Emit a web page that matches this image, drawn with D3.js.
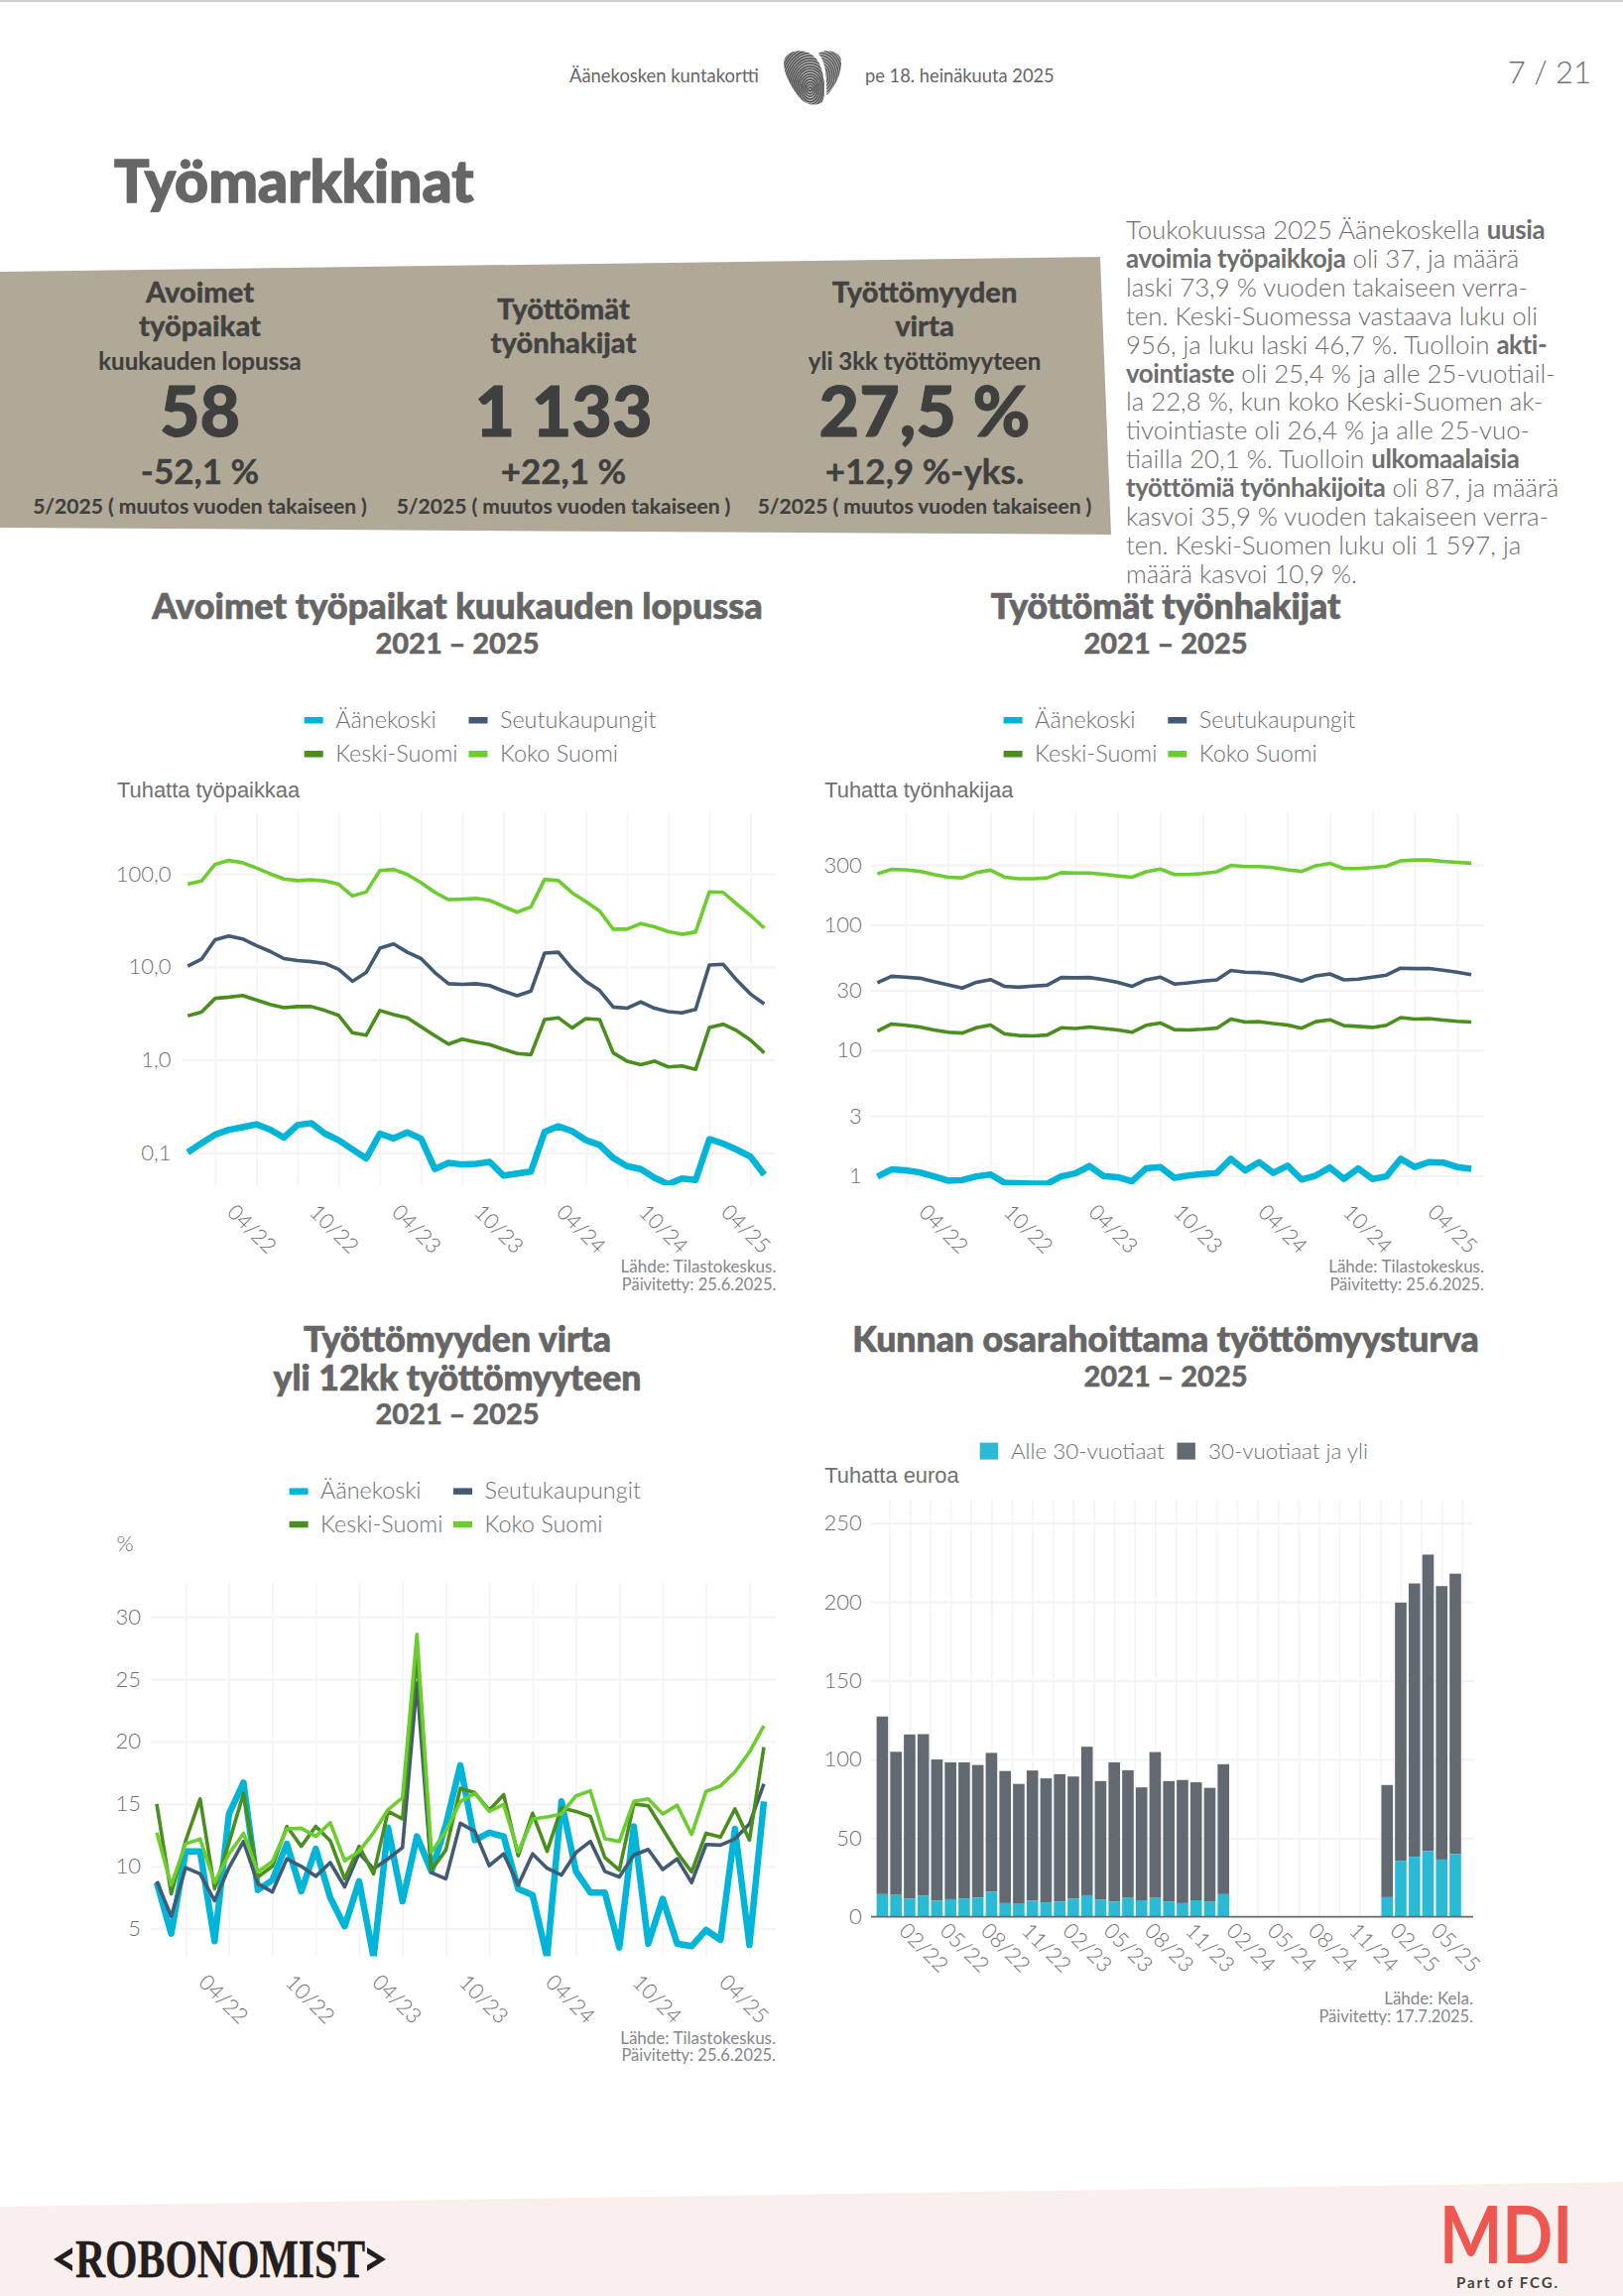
<!DOCTYPE html>
<html lang="fi"><head><meta charset="utf-8">
<script src="https://cdn.jsdelivr.net/npm/d3@7"></script>
<style>
html,body{margin:0;padding:0;background:#fff}
svg{display:block}
text{font-family:Lato,"Open Sans",sans-serif}
</style></head><body>
<svg id="page" width="1636" height="2315"></svg>
<script>
const months=["11/21","12/21","01/22","02/22","03/22","04/22","05/22","06/22","07/22","08/22","09/22","10/22","11/22","12/22","01/23","02/23","03/23","04/23","05/23","06/23","07/23","08/23","09/23","10/23","11/23","12/23","01/24","02/24","03/24","04/24","05/24","06/24","07/24","08/24","09/24","10/24","11/24","12/24","01/25","02/25","03/25","04/25","05/25"];
const seriesNames=["Äänekoski","Seutukaupungit","Keski-Suomi","Koko Suomi"];
const seriesColors=["#00B5D8","#435A75","#4A8F1E","#6CCE2E"];

const jobsAanekoski=[.101,.127,.157,.177,.189,.203,.178,.146,.199,.209,.161,.137,.109,.087,.161,.143,.166,.142,.067,.078,.075,.076,.08,.057,.06,.063,.168,.193,.171,.137,.122,.088,.072,.067,.054,.046,.053,.051,.14,.126,.108,.091,.058];
const jobsSeutu=[10.2,12.1,19.6,21.5,20,17,14.7,12.3,11.7,11.4,10.9,9.4,7,8.7,15.9,17.7,14.4,12.3,8.7,6.6,6.5,6.6,6.3,5.5,4.9,5.5,14.1,14.4,9.6,7,5.6,3.7,3.6,4.2,3.6,3.3,3.2,3.5,10.5,10.7,7.2,5.1,4];
const jobsKeski=[2.98,3.26,4.59,4.73,4.92,4.41,3.95,3.64,3.75,3.75,3.4,3.01,1.96,1.84,3.4,3.07,2.84,2.27,1.82,1.48,1.67,1.55,1.46,1.3,1.17,1.14,2.72,2.84,2.21,2.78,2.72,1.19,.97,.89,.97,.84,.86,.79,2.23,2.42,2.06,1.63,1.19];
const jobsKoko=[77.5,84,127,140,132,116,100.6,88.3,84.8,86.5,84,77.5,58,64,109,112,98.6,80.7,63.4,53,53.5,54.6,52,44.7,38.8,44.3,87.5,84.8,62.8,50.4,40,25.5,25.5,29.3,27,24,22.4,23.8,64.2,63.4,47.4,35.8,26.2];

const seekAanekoski=[.98,1.12,1.1,1.06,.985,.91,.92,.985,1.02,.875,.87,.86,.86,.985,1.04,1.19,.99,.97,.9,1.14,1.17,.96,1,1.03,1.05,1.36,1.1,1.28,1.05,1.2,.93,1,1.16,.94,1.14,.94,.985,1.36,1.17,1.28,1.27,1.17,1.13];
const seekSeutu=[34.5,38.9,38.3,37.5,35.3,33.2,31.3,34.8,36.6,32.3,31.8,32.5,33,38,37.8,38,36.6,34.8,32.3,36.4,38.3,33.7,34.5,35.6,36.4,43.2,41.9,41.6,40.6,38.3,35.6,39.2,40.6,36.4,36.9,38.3,39.7,45.1,44.8,44.8,43.5,41.9,40.1];
const seekKeski=[14.2,16.2,15.8,15.3,14.5,13.9,13.7,15.1,15.9,13.5,13.1,13,13.2,15.1,14.9,15.3,14.9,14.5,13.9,15.8,16.5,14.6,14.5,14.7,15,17.7,16.8,16.9,16.3,15.9,15,16.9,17.5,15.7,15.5,15.2,15.8,18.2,17.7,17.9,17.4,17,16.8];
const seekKoko=[255,277,275,267,252,240,237,261,273,240,233,233,237,261,259,259,253,246,240,265,279,252,252,257,265,298,292,292,286,275,267,296,310,281,281,286,294,324,329,329,321,315,310];

const flowAanekoski=[8.7,4.6,11.2,11.2,4,14.2,16.7,8.1,8.9,11.8,8,11.4,7.5,5.2,8.8,2.7,13.1,7.2,12.4,9.6,13.3,18.1,12.1,12.7,12.4,8.2,7.7,2.7,15.2,9.6,7.9,7.9,3.5,13.2,3.8,7.4,3.8,3.6,4.9,4.1,13,3.7,15.2];
const flowSeutu=[8.8,6,9.9,9.4,7.25,9.9,12,8.6,7.95,10.6,10,9.2,10.3,8.35,11.05,9.8,10.6,11.5,24.7,9.5,9,13.45,12.8,10.05,11,8.5,11,9.85,9.3,11.1,12,9.6,9.15,10.9,11.35,9.75,10.6,8.7,11.75,11.7,12.2,13.4,16.6];
const flowKeski=[15,7.8,12.05,15.4,8.2,11.9,15.85,9.15,10,13.2,11.6,13.2,12.05,9,11.6,9.4,14.4,13.8,27.1,9.7,11.3,16.25,15.9,14.5,15.75,10.85,14.25,11.2,14.7,14.4,14,10.7,9.7,15,14.85,13,11.1,9.55,12.65,12.35,14.6,12.1,19.55];
const flowKoko=[12.7,8.5,11.8,12.2,8.7,11,12.65,9.55,10.4,13,13.05,12.4,13.5,10.45,11.2,12.7,14.55,15.5,28.6,11.15,12.8,15.2,15.85,14.4,14.95,11.15,13.8,13.95,14.2,15.65,16.05,12.2,12,15.2,15.4,14.2,14.9,12.55,16,16.45,17.55,19.15,21.25];

const benefitYoung=[14.4,13.9,11.5,13.4,10.2,11.2,11.7,12.2,15.9,8.7,8.2,10.2,9.2,9.7,11.5,13.7,11,9.7,12,10.5,12,9.7,8.7,10.5,9.5,14.4,null,null,null,null,null,null,null,null,null,null,null,12.5,35.6,38.1,41.8,36.4,39.8];
const benefitOlder=[112.8,90.9,104.3,102.6,89.7,86.9,86.4,84.2,88.2,83.9,76.2,82.7,78.7,80.9,77.6,94.3,75.2,88.4,81.1,71.7,92.6,76.5,78.2,74.9,72.4,82.5,null,null,null,null,null,null,null,null,null,null,null,71.2,163.9,173.6,188.2,173.6,178.1];
const benefitNames=["Alle 30-vuotiaat","30-vuotiaat ja yli"];
const benefitColors=["#2ABAD6","#626971"];

const kpiTitles=[["Avoimet","työpaikat"],["Työttömät","työnhakijat"],["Työttömyyden","virta"]];
const kpiSubs=["kuukauden lopussa","","yli 3kk työttömyyteen"];
const kpiValues=["58","1 133","27,5 %"];
const kpiChanges=["-52,1 %","+22,1 %","+12,9 %-yks."];
const kpiNote="5/2025 ( muutos vuoden takaiseen )";
const bodyLines=[
 [["Toukokuussa 2025 Äänekoskella ",0],["uusia",1]],
 [["avoimia työpaikkoja",1],[" oli 37, ja määrä",0]],
 [["laski 73,9 % vuoden takaiseen verra-",0]],
 [["ten. Keski-Suomessa vastaava luku oli",0]],
 [["956, ja luku laski 46,7 %. Tuolloin ",0],["akti-",1]],
 [["vointiaste",1],[" oli 25,4 % ja alle 25-vuotiail-",0]],
 [["la 22,8 %, kun koko Keski-Suomen ak-",0]],
 [["tivointiaste oli 26,4 % ja alle 25-vuo-",0]],
 [["tiailla 20,1 %. Tuolloin ",0],["ulkomaalaisia",1]],
 [["työttömiä työnhakijoita",1],[" oli 87, ja määrä",0]],
 [["kasvoi 35,9 % vuoden takaiseen verra-",0]],
 [["ten. Keski-Suomen luku oli 1 597, ja",0]],
 [["määrä kasvoi 10,9 %.",0]]
];

const svg=d3.select("#page");
const GRID="#F4F4F5",TXT="#737577",HEAD="#666666",DARK="#3F3F3F";
const txt=(g,x,y,s,o={})=>{const t=g.append("text").attr("x",x).attr("y",y).text(s)
  .attr("text-anchor",o.a||"start").attr("font-size",o.s||18).attr("font-weight",o.w||400)
  .attr("fill",o.f||TXT).style("font-family",o.ff||null);
  if(o.sw) t.attr("stroke",o.f||TXT).attr("stroke-width",o.sw).attr("stroke-linejoin","round");
  return t;};

/* page furniture */
svg.append("rect").attr("width",1636).attr("height",2).attr("fill","#cfcfcf");
txt(svg,574,83,"Äänekosken kuntakortti",{s:18.4,f:"#666"});
txt(svg,872,83,"pe 18. heinäkuuta 2025",{s:18.3,f:"#666"});
txt(svg,1604,84,"7 / 21",{s:31,a:"end",f:"#707070",w:300});
const heart=svg.append("g").attr("transform","translate(770,40) scale(.3333)");
const defs=svg.append("defs");
defs.append("clipPath").attr("id","lobeL").append("path").attr("d","M62,60C75,28 130,22 160,60C185,95 190,170 175,190C150,205 120,195 100,165C75,130 55,90 62,60Z");
defs.append("clipPath").attr("id","lobeR").append("path").attr("d","M165,42C190,25 232,35 234,65C236,105 210,150 190,168C190,120 190,70 165,42Z");
const hl=heart.append("g").attr("clip-path","url(#lobeL)");
hl.append("rect").attr("width",300).attr("height",225).attr("fill","#bdbdbd");
d3.range(6,150,8).forEach(r=>hl.append("ellipse").attr("cx",140).attr("cy",150).attr("rx",r*.72).attr("ry",r).attr("fill","none").attr("stroke","#505050").attr("stroke-width",4.5));
const hr=heart.append("g").attr("clip-path","url(#lobeR)");
hr.append("rect").attr("width",300).attr("height",225).attr("fill","#bdbdbd");
d3.range(6,150,8).forEach(r=>hr.append("ellipse").attr("cx",170).attr("cy",110).attr("rx",r*.8).attr("ry",r).attr("fill","none").attr("stroke","#5a5a5a").attr("stroke-width",4.5));

txt(svg,115,204,"Työmarkkinat",{s:59,w:900,f:HEAD,sw:1.4});

svg.append("polygon").attr("points","0,274 1109,259 1120,539 0,532").attr("fill","#B1A997");
const kpiX=[201.5,568,932];
kpiX.forEach((cx,i)=>{
  const two=kpiSubs[i]==="";
  kpiTitles[i].forEach((t,j)=>txt(svg,cx,(two?322:305)+j*(two?33.5:34),t,{a:"middle",s:29,w:900,f:"#424242",sw:.3}));
  if(kpiSubs[i]) txt(svg,cx,372.5,kpiSubs[i],{a:"middle",s:24,w:700,f:DARK,sw:.2});
  txt(svg,cx,440,kpiValues[i],{a:"middle",s:70,w:900,f:DARK,sw:1});
  txt(svg,cx,487.5,kpiChanges[i],{a:"middle",s:35,w:700,f:DARK,sw:.4});
  txt(svg,cx,518,kpiNote,{a:"middle",s:21,w:700,f:DARK,sw:.15});
});
bodyLines.forEach((ln,i)=>{
  const t=svg.append("text").attr("x",1135).attr("y",241+i*28.9).attr("font-size",25.8).attr("fill","#6E6E6E");
  ln.forEach(([s,b])=>t.append("tspan").text(s).attr("font-weight",b?700:300).attr("letter-spacing",b?"-.35":null));
});

/* footer */
svg.append("polygon").attr("points","0,2225 1636,2200 1636,2315 0,2315").attr("fill","#F9EFED");
txt(svg,76,2296,"ROBONOMIST",{s:54.5,w:700,f:"#231F20",ff:"'Liberation Serif',serif",sw:.4})
  .attr("textLength",292).attr("lengthAdjust","spacingAndGlyphs");
svg.append("path").attr("d","M73,2266L54,2278L73,2290L73,2284L63,2278L73,2272Z").attr("fill","#231F20");
svg.append("path").attr("d","M370,2266L389,2278L370,2290L370,2284L380,2278L370,2272Z").attr("fill","#231F20");
txt(svg,1451,2282,"MDI",{s:80,w:700,f:"#EE5650"}).attr("textLength",134).attr("lengthAdjust","spacingAndGlyphs");
txt(svg,1468,2307,"Part of FCG.",{s:15,w:700,f:"#444"}).attr("textLength",102).attr("lengthAdjust","spacing");

/* helpers */
function titles(cx,lines,subY,size){
  lines.forEach(([s,y])=>txt(svg,cx,y,s,{a:"middle",s:size||35.6,w:900,f:HEAD,sw:.7}));
  txt(svg,cx,subY,"2021 – 2025",{a:"middle",s:29,w:900,f:HEAD,sw:.4});
}
function source(right,y,a,b){
  txt(svg,right,y,a,{a:"end",s:17,f:"#85878A"});
  txt(svg,right,y+17.5,b,{a:"end",s:16.5,f:"#85878A"});
}
function lineLegend(sw1,sw2,y1,y2){
  [[sw1,y1,0],[sw2,y1,1],[sw1,y2,2],[sw2,y2,3]].forEach(([x,y,i])=>{
    svg.append("rect").attr("x",x).attr("y",y-3).attr("width",19).attr("height",6.5).attr("fill",seriesColors[i]);
    txt(svg,x+31.5,y+8,seriesNames[i],{s:23.4,w:300,f:"#6E7072"});
  });
}
const strokes=[6.5,3.6,3.6,3.6];
let clipId=0;
function lineChart(o){
  const x=d3.scaleLinear().domain([0,months.length-1]).range(o.xr);
  const y=o.y;
  const g=svg.append("g");
  const gridTicks=d3.range(2,months.length,3);
  const xAxis=d3.axisBottom(x).tickValues(gridTicks).tickSize(-(o.bottom-o.top)).tickSizeOuter(0)
      .tickFormat(i=>(i-5)%6===0?months[i]:"");
  const xg=g.append("g").attr("transform",`translate(0,${o.bottom})`).call(xAxis);
  xg.select(".domain").remove();
  xg.selectAll("line").attr("stroke",GRID).attr("stroke-width",1.6);
  xg.selectAll("text").filter(function(){return this.textContent==="";}).remove();
  xg.selectAll("text").attr("y",0).attr("dy",".35em").attr("text-anchor","middle")
    .attr("transform",`translate(${o.labDx},${o.labDy}) rotate(45)`).attr("font-size",21.5).attr("fill","#6E7072").attr("font-weight",300);
  const yAxis=d3.axisLeft(y).tickValues(o.yTicks).tickFormat(o.yFmt).tickSize(-(o.gridR-o.gridL)).tickSizeOuter(0);
  const yg=g.append("g").attr("transform",`translate(${o.gridL},0)`).call(yAxis);
  yg.select(".domain").remove();
  yg.selectAll("line").attr("stroke",GRID).attr("stroke-width",2.2);
  yg.selectAll("text").attr("x",o.yLabR-o.gridL).attr("font-size",22).attr("fill","#6E7072").attr("font-weight",300);
  const id="clip"+(++clipId);
  svg.append("clipPath").attr("id",id).append("rect").attr("x",o.gridL-6).attr("y",o.top).attr("width",o.gridR-o.gridL+12).attr("height",o.bottom-o.top);
  const lg=g.append("g").attr("clip-path",`url(#${id})`);
  const ln=d3.line().x((d,i)=>x(i)).y(d=>y(d));
  o.series.forEach((s,i)=>lg.append("path").datum(s).attr("d",ln).attr("fill","none")
     .attr("stroke",seriesColors[i]).attr("stroke-width",strokes[i]).attr("stroke-linejoin","round"));
  const isPct=o.yTitle==="%";
  txt(svg,o.yTitleX,o.yTitleY,o.yTitle,{s:isPct?22:21.9,w:isPct?300:400,ff:isPct?null:"'Liberation Sans',sans-serif",f:"#707070"});
}

/* chart 1 */
titles(461,[["Avoimet työpaikat kuukauden lopussa",624]],659,36.1);
lineLegend(306.7,472.5,726,760);
lineChart({xr:[189.2,770.4],top:818.8,bottom:1195.1,gridL:183.7,gridR:782.4,yLabR:172.6,labDx:-5,labDy:44,
  y:d3.scaleLog().domain([.1,100]).range([1162.4,881.2]),yTicks:[.1,1,10,100],yFmt:d=>d3.format(".1f")(d).replace(".",","),
  series:[jobsAanekoski,jobsSeutu,jobsKeski,jobsKoko],yTitle:"Tuhatta työpaikkaa",yTitleX:118,yTitleY:804});
source(782.4,1283,"Lähde: Tilastokeskus.","Päivitetty: 25.6.2025.");

/* chart 2 */
titles(1175,[["Työttömät työnhakijat",624]],659);
lineLegend(1011.6,1177.3,726,760);
lineChart({xr:[884.4,1483.1],top:818.8,bottom:1195.1,gridL:878,gridR:1496,yLabR:868.8,labDx:-5,labDy:44,
  y:d3.scaleLog().domain([1,300]).range([1185.3,872.2]),yTicks:[1,3,10,30,100,300],yFmt:d3.format("d"),
  series:[seekAanekoski,seekSeutu,seekKeski,seekKoko],yTitle:"Tuhatta työnhakijaa",yTitleX:831.2,yTitleY:804});
source(1496,1283,"Lähde: Tilastokeskus.","Päivitetty: 25.6.2025.");

/* chart 3 */
titles(461,[["Työttömyyden virta",1363],["yli 12kk työttömyyteen",1402]],1436);
lineLegend(291.6,457,1503.4,1536.8);
lineChart({xr:[158,770],top:1596.4,bottom:1972.6,gridL:152,gridR:782,yLabR:142,labDx:-6,labDy:43,
  y:d3.scaleLinear().domain([5,30]).range([1944.7,1630.1]),yTicks:[5,10,15,20,25,30],yFmt:d3.format("d"),
  series:[flowAanekoski,flowSeutu,flowKeski,flowKoko],yTitle:"%",yTitleX:117.5,yTitleY:1564});
source(782,2060.6,"Lähde: Tilastokeskus.","Päivitetty: 25.6.2025.");

/* chart 4 */
titles(1175,[["Kunnan osarahoittama työttömyysturva",1363]],1398);
[[987.7,1019,0],[1186.5,1218,1]].forEach(([x,tx,i])=>{
  svg.append("rect").attr("x",x).attr("y",1454.6).attr("width",18.4).attr("height",17).attr("fill",benefitColors[i]);
  txt(svg,tx,1471,benefitNames[i],{s:22.4,w:300,f:"#6E7072"});
});
txt(svg,831.2,1495.4,"Tuhatta euroa",{s:21.9,ff:"'Liberation Sans',sans-serif",f:"#707070"});
(function(){
  const x=d3.scaleLinear().domain([0,months.length-1]).range([889.4,1467]);
  const y=d3.scaleLinear().domain([0,250]).range([1932.7,1535.7]);
  const top=1512.4,bottom=1932.7,gridL=878,gridR=1485;
  const g=svg.append("g");
  const xg=g.append("g").attr("transform",`translate(0,${bottom})`)
    .call(d3.axisBottom(x).tickValues(d3.range(.5,43,1.5)).tickSize(-(bottom-top)).tickSizeOuter(0).tickFormat(""));
  xg.select(".domain").remove();
  xg.selectAll("text").remove();
  xg.selectAll("line").attr("stroke",GRID).attr("stroke-width",1.6);
  const yg=g.append("g").attr("transform",`translate(${gridL},0)`)
    .call(d3.axisLeft(y).tickValues([0,50,100,150,200,250]).tickSize(-(gridR-gridL)).tickSizeOuter(0));
  yg.select(".domain").remove();
  yg.selectAll("line").attr("stroke",GRID).attr("stroke-width",2.2);
  yg.selectAll("text").attr("x",868.8-gridL).attr("font-size",22).attr("fill","#6E7072").attr("font-weight",300);
  const bw=11.6;
  months.forEach((m,i)=>{
    if(benefitYoung[i]==null) return;
    g.append("rect").attr("x",x(i)-bw/2).attr("width",bw).attr("y",y(benefitYoung[i]+benefitOlder[i]))
     .attr("height",y(benefitYoung[i])-y(benefitYoung[i]+benefitOlder[i])).attr("fill",benefitColors[1]);
    g.append("rect").attr("x",x(i)-bw/2).attr("width",bw).attr("y",y(benefitYoung[i]))
     .attr("height",y(0)-y(benefitYoung[i])).attr("fill",benefitColors[0]);
  });
  g.append("line").attr("x1",gridL).attr("x2",gridR).attr("y1",y(0)).attr("y2",y(0)).attr("stroke","#666a6e").attr("stroke-width",1.8);
  const lab=g.append("g").attr("transform",`translate(0,${bottom})`)
    .call(d3.axisBottom(x).tickValues(d3.range(3,43,3)).tickSize(0).tickFormat(i=>months[i]));
  lab.select(".domain").remove();
  lab.selectAll("text").attr("y",0).attr("dy",".35em").attr("text-anchor","middle")
    .attr("transform","translate(0,31) rotate(45)").attr("font-size",21.5).attr("fill","#6E7072").attr("font-weight",300);
})();
source(1485,2021,"Lähde: Kela.","Päivitetty: 17.7.2025.");

d3.selectAll("svg text").each(function(){ if(!this.style.fontFamily) this.style.fontFamily="Lato,'Open Sans',sans-serif"; });
</script>
</body></html>
